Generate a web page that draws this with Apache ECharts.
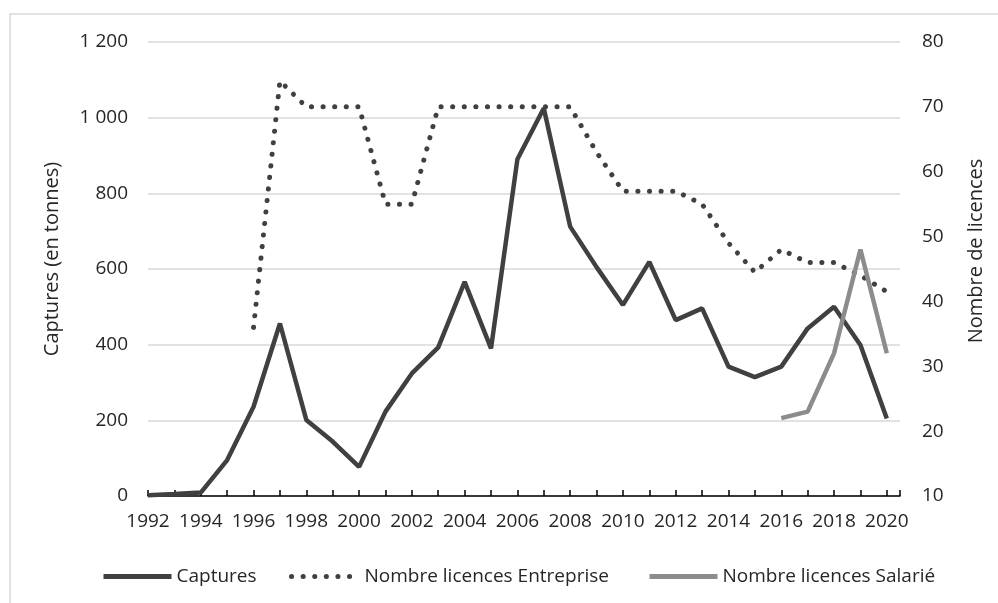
<!DOCTYPE html>
<html>
<head>
<meta charset="utf-8">
<script src="https://cdn.jsdelivr.net/npm/echarts@6/dist/echarts.min.js"></script>
<style>
  html, body { margin: 0; padding: 0; background: #fff; }
  #chart { width: 998px; height: 603px; }
</style>
</head>
<body>
<div id="chart"></div>
<script>
  // années et valeurs
  var years = [1992, 1993, 1994, 1995, 1996, 1997, 1998, 1999, 2000, 2001, 2002, 2003, 2004, 2005, 2006,
    2007, 2008, 2009, 2010, 2011, 2012, 2013, 2014, 2015, 2016, 2017, 2018, 2019, 2020]
  var captures = [2, 5, 9, 95, 236, 456, 201, 144, 77, 223, 324, 393, 566, 390, 890,
    1025, 712, 605, 505, 619, 465, 496, 342, 314, 342, 443, 500, 399, 205]
  var entrepriseYears = [1996, 1997, 1998, 1999, 2000, 2001, 2002, 2003, 2004, 2005, 2006, 2007, 2008,
    2009, 2010, 2011, 2012, 2013, 2014, 2015, 2016, 2017, 2018, 2019, 2020]
  var licencesEntreprise = [36, 74, 70, 70, 70, 55, 55, 70, 70, 70, 70, 70, 70,
    63, 57, 57, 57, 55, 49, 44.5, 48, 46, 46, 44, 41.5]
  var salarieYears = [2016, 2017, 2018, 2019, 2020]
  var licencesSalarie = [22, 23, 32, 48, 32]
  var labelYears = [1992, 1994, 1996, 1998, 2000, 2002, 2004, 2006, 2008, 2010, 2012, 2014, 2016, 2018, 2020]

  function pairs(xs, ys) {
    return xs.map(function (x, i) { return [x, ys[i]] })
  }

  var font = '"Open Sans", "Liberation Sans", sans-serif'
  var textColor = '#262626'
  var dotted = [0.1, 11.5]

  var chart = echarts.init(document.getElementById('chart'))
  var option = {
    animation: false,
    backgroundColor: '#fff',
    textStyle: { fontFamily: font },
    graphic: [{
      type: 'rect',
      shape: { x: 10, y: 14, width: 1000, height: 600 },
      style: { fill: 'none', stroke: '#d9d9d9', lineWidth: 1.5 },
      silent: true
    }],
    legend: [
      { data: ['Captures'], left: 96, top: 562, lineStyle: { width: 5 } },
      { data: ['Nombre licences Entreprise'], left: 284, top: 562, lineStyle: { width: 5, type: dotted, cap: 'round' } },
      { data: ['Nombre licences Salarié'], left: 642, top: 562, lineStyle: { width: 5 } }
    ].map(function (l) {
      l.itemWidth = 68
      l.itemHeight = 14
      l.itemStyle = { opacity: 0 }   // pas de symbole, seulement le trait
      l.textStyle = { fontFamily: font, fontSize: 19, color: textColor }
      return l
    }),
    grid: { left: 148, right: 98, top: 42, bottom: 107 },
    xAxis: {
      type: 'value',
      min: 1992,
      max: 2020.5,
      interval: 1,
      splitLine: { show: false },
      axisLine: { show: true, onZero: false, lineStyle: { color: '#000', width: 1.5 } },
      axisTick: {
        show: true, inside: true, length: 6,
        lineStyle: { color: '#000', width: 1.5 }
      },
      axisLabel: {
        customValues: labelYears,
        margin: 16,
        color: textColor,
        fontSize: 19,
        fontFamily: font,
        formatter: function (v) { return String(v) }
      }
    },
    yAxis: [
      {
        type: 'value',
        min: 0,
        max: 1200,
        interval: 200,
        name: 'Captures (en tonnes)',
        nameLocation: 'middle',
        nameGap: 86,
        nameTextStyle: { fontSize: 20, color: textColor, fontFamily: font, padding: [0, 0, 0, 20] },
        axisLine: { show: false },
        axisTick: { show: false },
        axisLabel: {
          margin: 20,
          color: textColor,
          fontSize: 19,
          fontFamily: font,
          formatter: function (v) {
            return String(v).replace(/\B(?=(\d{3})+(?!\d))/g, ' ')
          }
        },
        splitLine: { lineStyle: { color: '#d9d9d9', width: 1.5 } }
      },
      {
        type: 'value',
        min: 10,
        max: 80,
        interval: 10,
        position: 'right',
        name: 'Nombre de licences',
        nameLocation: 'middle',
        nameGap: 66,
        nameRotate: 90,
        nameTextStyle: { fontSize: 20, color: textColor, fontFamily: font, padding: [0, 0, 0, 36] },
        axisLine: { show: false },
        axisTick: { show: false },
        axisLabel: { margin: 22, color: textColor, fontSize: 19, fontFamily: font },
        splitLine: { show: false }
      }
    ],
    series: [
      {
        name: 'Captures',
        type: 'line',
        yAxisIndex: 0,
        symbol: 'none',
        color: '#404040',
        lineStyle: { color: '#404040', width: 4.5 },
        data: pairs(years, captures)
      },
      {
        name: 'Nombre licences Entreprise',
        type: 'line',
        yAxisIndex: 1,
        symbol: 'none',
        color: '#404040',
        lineStyle: { color: '#404040', width: 5, type: dotted, cap: 'round' },
        data: pairs(entrepriseYears, licencesEntreprise)
      },
      {
        name: 'Nombre licences Salarié',
        type: 'line',
        yAxisIndex: 1,
        symbol: 'none',
        color: '#8c8c8c',
        lineStyle: { color: '#8c8c8c', width: 4.5 },
        data: pairs(salarieYears, licencesSalarie)
      }
    ]
  }
  chart.setOption(option)
</script>
</body>
</html>
